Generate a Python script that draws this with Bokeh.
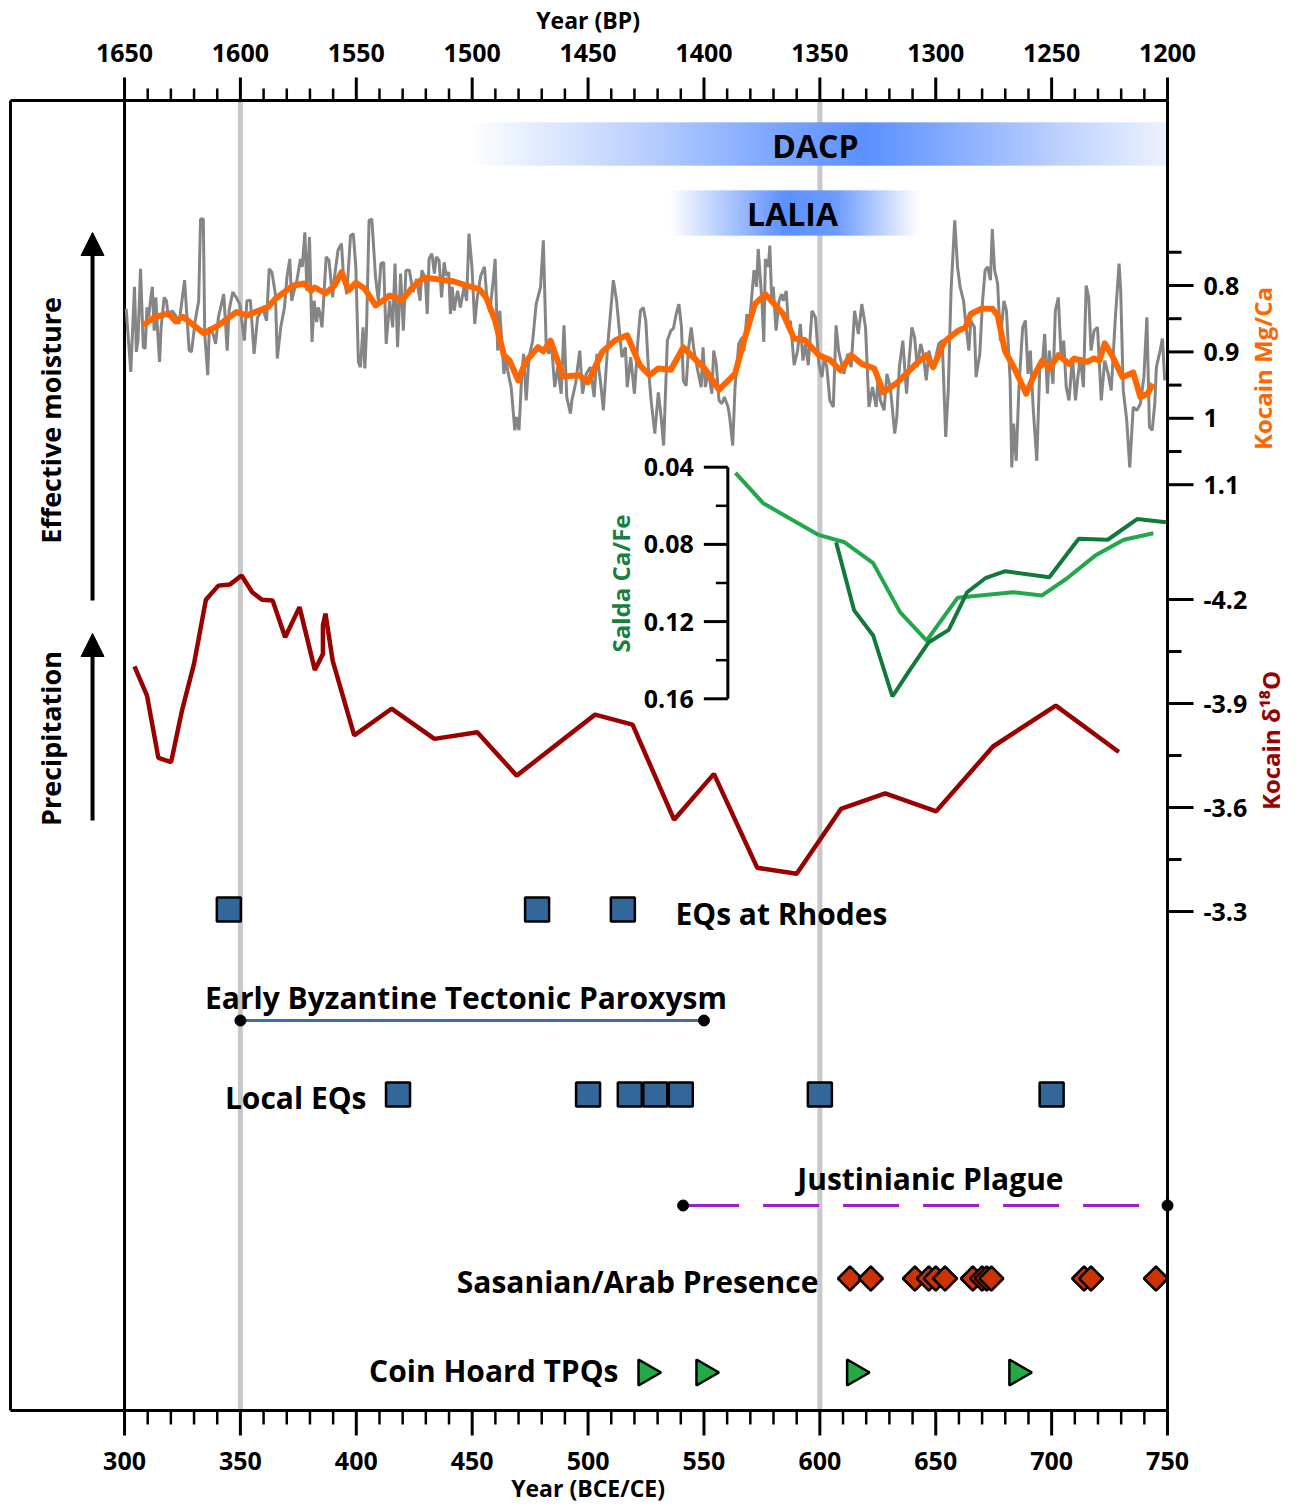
import numpy as np
from bokeh.plotting import figure
from bokeh.models import Range1d, Label, Arrow, NormalHead
from bokeh.core.properties import value
from bokeh.embed import file_html
from bokeh.resources import INLINE

FONT = "Open Sans"

# ---------------- data ----------------
# Kocain Mg/Ca, high-resolution record (grey)
mgca_raw_year = [
    300.7, 302.7, 304.3, 305.1, 305.8, 306.9, 308.1, 308.9, 309.7, 310.4,
    311.2, 312.0, 312.8, 313.5, 314.3, 315.1, 315.8, 317.1, 318.1, 318.9,
    320.5, 322.0, 323.5, 325.9, 327.9, 328.9, 330.5, 332.0, 332.8, 334.0,
    334.6, 335.9, 336.6, 338.2, 339.3, 340.5, 342.8, 344.3, 345.1, 346.7,
    348.2, 349.7, 351.7, 352.8, 354.3, 355.9, 357.4, 359.7, 361.3, 362.4,
    363.6, 365.1, 365.9, 367.4, 369.0, 370.1, 371.3, 372.1, 372.8, 374.4,
    375.9, 376.7, 377.8, 378.7, 379.8, 380.9, 381.8, 382.9, 383.6, 384.4,
    385.2, 385.9, 387.0, 388.2, 389.8, 390.6, 392.1, 393.6, 394.4, 395.9,
    397.5, 398.7, 399.8, 400.9, 401.8, 402.9, 403.7, 404.4, 405.5, 406.7,
    408.3, 409.5, 410.6, 411.8, 412.9, 414.4, 415.7, 416.7, 417.8, 419.1,
    420.3, 421.4, 422.9, 424.5, 426.0, 427.5, 428.3, 429.8, 430.6, 431.4,
    432.6, 433.7, 434.5, 435.7, 436.8, 437.9, 438.8, 439.9, 440.6, 441.4,
    442.2, 442.9, 443.7, 444.9, 446.5, 447.6, 448.6, 449.9, 451.1, 452.2,
    453.7, 455.3, 456.3, 457.6, 459.1, 459.9, 461.0, 461.9, 463.7, 464.5,
    465.3, 466.8, 468.4, 469.1, 470.2, 471.4, 472.2, 473.3, 474.5, 476.1,
    477.6, 479.5, 480.7, 481.9, 483.0, 484.1, 485.6, 486.9, 488.4, 489.6,
    490.8, 492.4, 493.0, 494.6, 496.4, 497.6, 499.2, 501.0, 502.6, 503.8,
    505.3, 506.6, 508.4, 510.9, 512.3, 514.6, 516.1, 516.9, 518.4, 520.0, 521.5,
    522.6, 523.8, 524.9, 526.0, 527.2, 528.8, 530.3, 531.5, 532.6, 534.2,
    535.7, 536.8, 538.0, 539.2, 540.3, 541.1, 542.3, 543.4, 544.5, 545.7,
    547.3, 548.8, 549.6, 550.6, 551.9, 553.4, 554.2, 555.3, 556.5, 557.7,
    558.8, 560.4, 561.1, 562.4, 563.4, 565.0, 566.5, 567.3, 568.5, 569.6,
    570.7, 571.6, 572.7, 573.4, 575.0, 575.8, 576.5, 577.8, 578.4, 579.3,
    579.9, 581.1, 582.4, 583.5, 584.2, 585.5, 586.5, 587.3, 588.9, 590.4,
    591.6, 592.7, 593.8, 595.0, 596.6, 598.1, 599.6, 600.9, 601.9, 603.0,
    604.3, 605.8, 607.0, 608.1, 609.7, 610.4, 612.0, 613.5, 615.0, 616.6,
    618.1, 619.7, 621.2, 622.7, 624.3, 625.1, 626.1, 627.7, 628.9, 630.4,
    632.3, 633.2, 634.3, 635.8, 637.4, 638.5, 639.7, 640.9, 642.0, 643.5,
    644.6, 645.9, 647.1, 648.6, 649.7, 651.3, 652.8, 654.3, 655.4, 656.6,
    658.2, 659.4, 660.5, 662.0, 663.1, 664.3, 665.1, 666.7, 667.4, 669.0,
    670.2, 671.3, 672.4, 673.6, 674.4, 675.4, 676.7, 677.9, 679.4, 680.5,
    682.1, 682.8, 683.6, 684.7, 685.9, 687.5, 688.7, 689.8, 690.8, 692.1,
    693.6, 694.9, 695.9, 697.0, 698.2, 699.0, 700.6, 701.6, 702.9, 704.1,
    705.2, 706.3, 707.5, 709.0, 710.3, 711.3, 712.4, 713.7, 714.9, 716.0,
    717.0, 718.3, 719.8, 721.4, 722.9, 724.4, 725.7, 727.5, 729.1, 729.8,
    730.9, 732.4, 733.7, 735.2, 736.8, 738.3, 739.8, 741.1, 742.2, 743.4,
    744.5, 745.2, 746.8, 747.8, 748.8,
]
mgca_raw = [
    0.835, 0.930, 0.802, 0.900, 0.883, 0.775, 0.893, 0.895, 0.833, 0.848,
    0.823, 0.802, 0.868, 0.818, 0.870, 0.915, 0.863, 0.818, 0.823, 0.848,
    0.838, 0.845, 0.858, 0.792, 0.898, 0.900, 0.853, 0.823, 0.700, 0.700,
    0.873, 0.935, 0.863, 0.873, 0.888, 0.848, 0.813, 0.898, 0.838, 0.810,
    0.818, 0.828, 0.883, 0.823, 0.822, 0.903, 0.848, 0.835, 0.853, 0.775,
    0.780, 0.813, 0.910, 0.863, 0.833, 0.787, 0.760, 0.823, 0.813, 0.792,
    0.760, 0.772, 0.720, 0.808, 0.727, 0.885, 0.823, 0.855, 0.833, 0.843,
    0.863, 0.823, 0.757, 0.762, 0.818, 0.787, 0.747, 0.737, 0.782, 0.813,
    0.725, 0.722, 0.772, 0.915, 0.923, 0.863, 0.925, 0.868, 0.702, 0.700,
    0.787, 0.823, 0.767, 0.765, 0.888, 0.823, 0.863, 0.767, 0.893, 0.782,
    0.868, 0.777, 0.777, 0.810, 0.790, 0.823, 0.777, 0.790, 0.843, 0.760,
    0.752, 0.782, 0.757, 0.762, 0.818, 0.765, 0.785, 0.780, 0.843, 0.802,
    0.838, 0.823, 0.808, 0.833, 0.802, 0.823, 0.722, 0.772, 0.858, 0.818,
    0.785, 0.772, 0.818, 0.840, 0.792, 0.760, 0.898, 0.838, 0.933, 0.908,
    0.928, 0.953, 1.018, 0.998, 1.018, 0.933, 0.903, 0.973, 0.908, 0.883,
    0.828, 0.802, 0.732, 0.888, 0.903, 0.883, 0.953, 0.923, 0.963, 0.860,
    0.968, 0.993, 0.973, 0.948, 0.898, 0.963, 0.933, 0.923, 0.968, 0.903,
    0.943, 0.988, 0.893, 0.792, 0.823, 0.908, 0.893, 0.953, 0.908, 0.963, 0.883,
    0.838, 0.833, 0.853, 0.923, 0.973, 1.023, 0.961, 0.998, 1.041, 0.883,
    0.868, 0.865, 0.843, 0.828, 0.863, 0.943, 0.951, 0.893, 0.863, 0.898,
    0.928, 0.953, 0.893, 0.953, 0.928, 0.963, 0.898, 0.918, 0.973, 0.978,
    0.968, 0.983, 0.998, 1.041, 0.953, 0.888, 0.878, 0.898, 0.843, 0.858,
    0.813, 0.777, 0.802, 0.745, 0.823, 0.885, 0.760, 0.772, 0.740, 0.828,
    0.802, 0.868, 0.823, 0.813, 0.823, 0.808, 0.863, 0.853, 0.920, 0.898,
    0.858, 0.913, 0.888, 0.920, 0.838, 0.848, 0.918, 0.938, 0.908, 0.923,
    0.973, 0.983, 0.860, 0.898, 0.923, 0.933, 0.903, 0.923, 0.838, 0.873,
    0.828, 0.863, 0.983, 0.953, 0.983, 0.938, 0.973, 0.988, 0.933, 0.953,
    1.023, 0.998, 0.923, 0.883, 0.963, 0.913, 0.863, 0.878, 0.923, 0.888,
    0.903, 0.943, 0.898, 0.923, 0.913, 0.888, 0.883, 1.028, 0.958, 0.808,
    0.702, 0.772, 0.802, 0.823, 0.863, 0.898, 0.853, 0.863, 0.938, 0.903,
    0.823, 0.777, 0.772, 0.792, 0.715, 0.777, 0.797, 0.883, 0.823, 0.838,
    0.943, 1.074, 1.008, 1.064, 0.953, 0.863, 0.853, 0.933, 0.898, 0.988,
    1.064, 0.923, 0.923, 0.873, 0.963, 0.898, 0.948, 0.838, 0.818, 0.908,
    0.883, 0.953, 0.973, 0.908, 0.973, 0.938, 0.908, 0.953, 0.800, 0.818,
    0.898, 0.868, 0.863, 0.973, 0.913, 0.933, 0.958, 0.848, 0.767, 0.808,
    0.958, 1.003, 1.074, 0.983, 0.988, 0.978, 0.938, 0.848, 1.013, 1.018,
    0.978, 0.923, 0.898, 0.880, 0.943,
]

# Kocain Mg/Ca, smoothed (orange)
mgca_smooth_year = [
    308.1, 312.8, 318.9, 322.0, 325.1, 334.3, 340.5, 348.2, 352.8, 362.1,
    365.1, 372.8, 377.5, 380.5, 382.1, 386.7, 390.6, 393.6, 396.7, 399.8,
    403.7, 408.3, 411.4, 414.4, 417.5, 419.8, 423.7, 429.1, 436.0, 442.2,
    448.3, 452.9, 456.0, 459.9, 463.7, 466.1, 469.9, 473.0, 478.4, 480.7,
    483.8, 489.2, 496.1, 499.9, 506.1, 511.5, 516.9, 522.3,
    526.5, 530.3, 535.7, 541.1, 550.3, 556.5, 563.4, 567.3, 571.9, 576.5,
    584.2, 588.9, 593.5, 599.6, 604.3, 608.9, 613.5, 618.1, 623.5, 627.4,
    633.5, 641.2, 645.9, 648.9, 653.6, 659.7, 662.8, 665.1, 669.7, 674.4,
    676.7, 679.8, 684.4, 689.0, 692.1, 695.9, 699.0, 702.9, 707.5, 709.8,
    715.2, 718.3, 720.6, 722.9, 726.0, 730.6, 735.2, 738.3, 741.4, 743.7,
]
mgca_smooth = [
    0.860, 0.848, 0.842, 0.854, 0.847, 0.872, 0.860, 0.840, 0.845, 0.832,
    0.820, 0.800, 0.797, 0.808, 0.803, 0.812, 0.800, 0.780, 0.807, 0.796,
    0.805, 0.830, 0.823, 0.815, 0.819, 0.822, 0.805, 0.788, 0.791, 0.794,
    0.801, 0.805, 0.818, 0.853, 0.905, 0.913, 0.943, 0.915, 0.893, 0.899,
    0.883, 0.937, 0.935, 0.946, 0.900, 0.883, 0.875, 0.920,
    0.935, 0.925, 0.927, 0.893, 0.925, 0.957, 0.933, 0.883, 0.828, 0.813,
    0.843, 0.880, 0.882, 0.905, 0.912, 0.928, 0.905, 0.918, 0.925, 0.961,
    0.946, 0.919, 0.905, 0.923, 0.885, 0.868, 0.863, 0.843, 0.835, 0.835,
    0.845, 0.898, 0.928, 0.963, 0.938, 0.913, 0.925, 0.905, 0.918, 0.910,
    0.915, 0.910, 0.913, 0.887, 0.905, 0.938, 0.931, 0.968, 0.963, 0.948,
]

# Kocain d18O (dark red)
d18o_year = [
    304.3, 309.7, 314.6, 320.1, 324.8, 330.0, 335.1, 340.5, 345.4, 350.5,
    355.1, 359.3, 363.9, 369.3, 375.5, 382.1, 385.6, 385.6, 386.7, 389.8,
    399.1, 415.2, 433.7, 452.2, 469.2, 503.0, 519.2, 537.1, 554.3, 573.0,
    590.0, 609.1, 628.2, 650.2, 674.7, 701.8, 729.0,
]
d18o = [
    -4.007, -3.923, -3.743, -3.731, -3.880, -4.015, -4.199, -4.240, -4.243, -4.269,
    -4.221, -4.199, -4.197, -4.091, -4.178, -3.997, -4.043, -4.125, -4.159, -4.024,
    -3.808, -3.885, -3.798, -3.817, -3.692, -3.868, -3.839, -3.565, -3.697, -3.426,
    -3.409, -3.596, -3.641, -3.589, -3.776, -3.894, -3.760,
]

# Salda Ca/Fe (two records)
salda_a_year = [563.6, 575.6, 599.1, 610.7, 623.0, 634.6, 646.1, 659.4, 683.3, 695.7,
                706.4, 718.8, 731.1, 743.9]
salda_a = [0.0429, 0.0587, 0.0749, 0.0789, 0.0897, 0.1151, 0.1298, 0.1077, 0.1048, 0.1065,
           0.0978, 0.0858, 0.0776, 0.0742]
salda_b_year = [607.0, 614.8, 623.0, 631.3, 638.7, 647.0, 655.6, 663.5, 671.7, 680.0,
                699.0, 711.7, 724.2, 736.9, 749.3]
salda_b = [0.0789, 0.1142, 0.1272, 0.1588, 0.1453, 0.1307, 0.1243, 0.1048, 0.0973, 0.0939,
           0.0970, 0.0771, 0.0776, 0.0669, 0.0685]

# events (years CE)
rhodes_eq = [345, 478, 515]
local_eq = [418, 500, 518, 529, 540, 600, 700]
paroxysm = [350, 550]
plague = [541, 750]
sasanian_arab = [613, 622, 641, 647, 650, 654, 666, 670, 672, 674, 714, 717, 745]
coin_tpq = [525, 550, 615, 685]
guide_years = [350, 600]
dacp_span = [448, 750]
lalia_span = [535, 643]

# axis ticks
ce_ticks = list(range(300, 751, 50))
ce_minor = [t for t in range(300, 751, 10) if t % 50]
bp_ticks = list(range(1200, 1651, 50))
bp_minor = [t for t in range(1200, 1651, 10) if t % 50]
mg_ticks = [0.8, 0.9, 1.0, 1.1]
mg_tick_labels = ["0.8", "0.9", "1", "1.1"]
mg_minor = [0.75, 0.85, 0.95, 1.05]
d18o_ticks = [-4.2, -3.9, -3.6, -3.3]
d18o_tick_labels = ["-4.2", "-3.9", "-3.6", "-3.3"]
d18o_minor = [-4.05, -3.75, -3.45]
salda_ticks = [0.04, 0.08, 0.12, 0.16]
salda_tick_labels = ["0.04", "0.08", "0.12", "0.16"]
salda_minor = [0.06, 0.10, 0.14]

# ---------------- layout ----------------
W, H = 1298, 1506
X_START, X_END = 246.49, 806.51          # CE at canvas left / right
MG_START, MG_END = 2.63886, 0.37078      # Mg/Ca at canvas bottom / top
D_START, D_END = -1.58391, -5.92772      # d18O at canvas bottom / top
S_START, S_END = 0.57850, -0.20181       # Salda Ca/Fe at canvas bottom / top

BOX_L, BOX_R = 250.8, 750.0              # plot box (CE)
BOX_T, BOX_B = 100, 1410                 # plot box (px from top)
PX = (X_END - X_START) / W               # CE per pixel

p = figure(width=W, height=H, output_backend="svg", toolbar_location=None, title=None,
           x_range=Range1d(X_START, X_END), y_range=Range1d(MG_START, MG_END),
           x_axis_location=None, y_axis_location=None, min_border=0,
           min_border_left=0, min_border_right=0, min_border_top=0, min_border_bottom=0)
p.extra_x_ranges = {"bp": Range1d(1950 - X_START, 1950 - X_END)}
p.extra_y_ranges = {"d18o": Range1d(D_START, D_END),
                    "salda": Range1d(S_START, S_END),
                    "lay": Range1d(H, 0)}
p.outline_line_color = None
p.background_fill_color = "white"
p.border_fill_color = "white"
p.grid.visible = False

TICK_FS = "25px"


def seg(x0, y0, x1, y1, color="black", width=3, xr="default", yr="lay", dash="solid"):
    p.segment(x0=x0, y0=y0, x1=x1, y1=y1, x_range_name=xr, y_range_name=yr,
              line_color=color, line_width=width, line_dash=dash)


def texts(x, y, labels, size=TICK_FS, align="center", xr="default", yr="lay"):
    p.text(x=x, y=y, text=labels, x_range_name=xr, y_range_name=yr, text_font=value(FONT),
           text_font_style="bold", text_font_size=size, text_align=align,
           text_baseline="middle", text_color="black")


def label(x, y, text, size, color="black", align="center", angle=0.0, yname="lay"):
    p.add_layout(Label(x=x, y=y, text=text, y_range_name=yname, text_font=FONT, text_font_style="bold",
                       text_font_size=size, text_color=color, text_align=align,
                       text_baseline="middle", angle=angle))


# guide lines (behind everything)
n = len(guide_years)
seg(guide_years, [BOX_T] * n, guide_years, [BOX_B] * n, color="#c8c8c8", width=5)

# gradient bands
BLUE = (92, 144, 255)


def band(span, y_top, y_bot, stops_x, stops_a):
    k = int((span[1] - span[0]) * 2)
    e = np.linspace(span[0], span[1], k + 1)
    c = (e[:-1] + e[1:]) / 2
    a = np.interp(c, stops_x, stops_a)
    cols = ["#%02x%02x%02x" % tuple(int(round(255 * (1 - ai) + b * ai)) for b in BLUE) for ai in a]
    p.quad(left=e[:-1], right=np.minimum(e[1:] + 0.35, span[1]), top=y_top, bottom=y_bot,
           y_range_name="lay", fill_color=cols, line_color=None)


band(dacp_span, 122, 165, [448, 527, 580, 620, 657, 705, 745, 750], [0, 0.45, 0.8, 1.0, 0.75, 0.4, 0.15, 0.12])
band(lalia_span, 190, 235, [535, 560, 585, 607, 625, 643], [0, 0.5, 1.0, 0.9, 0.45, 0])
label(598.1, 145, "DACP", "32px")
label(588.2, 213, "LALIA", "32px")

# box, inner line at 300 CE, right axis line
seg([BOX_L, BOX_L, BOX_L, ce_ticks[0], BOX_R], [BOX_T, BOX_B, BOX_T, BOX_T, BOX_T],
    [BOX_R, BOX_R, BOX_L, ce_ticks[0], BOX_R], [BOX_T, BOX_B, BOX_B, BOX_B, BOX_B])

# bottom axis (CE)
seg(ce_ticks, [BOX_B] * len(ce_ticks), ce_ticks, [BOX_B + 25] * len(ce_ticks))
seg(ce_minor, [BOX_B] * len(ce_minor), ce_minor, [BOX_B + 14] * len(ce_minor), width=2.5)
texts(ce_ticks, [1460] * len(ce_ticks), [str(t) for t in ce_ticks])
texts([500], [1487], ["Year (BCE/CE)"], size="23px")

# top axis (BP)
seg(bp_ticks, [BOX_T] * len(bp_ticks), bp_ticks, [BOX_T - 23] * len(bp_ticks), xr="bp")
seg(bp_minor, [BOX_T] * len(bp_minor), bp_minor, [BOX_T - 12] * len(bp_minor), xr="bp", width=2.5)
texts(bp_ticks, [52] * len(bp_ticks), [str(t) for t in bp_ticks], xr="bp")
texts([500], [19], ["Year (BP)"], size="23px")

# right axes (Mg/Ca on top, d18O below)
MAJ, MIN_, GAP = 26 * PX, 14 * PX, 36 * PX
for ticks, minors, labs, rname in [(mg_ticks, mg_minor, mg_tick_labels, "default"),
                                   (d18o_ticks, d18o_minor, d18o_tick_labels, "d18o")]:
    seg([BOX_R] * len(ticks), ticks, [BOX_R + MAJ] * len(ticks), ticks, yr=rname)
    seg([BOX_R] * len(minors), minors, [BOX_R + MIN_] * len(minors), minors, yr=rname)
    texts([BOX_R + GAP] * len(ticks), ticks, labs, align="left", yr=rname)
label(BOX_R + 95 * PX, 368, "Kocain Mg/Ca", "24px", color="#ff6600", angle=np.pi / 2)
label(BOX_R + 103 * PX, 740, "Kocain \u03b4\u00b9\u2078O", "24px", color="#990000", angle=np.pi / 2)

# Mg/Ca series
p.line(mgca_raw_year, mgca_raw, line_color="#858585", line_width=3)
p.line(mgca_smooth_year, mgca_smooth, line_color="#ff6600", line_width=6, line_join="round")

# d18O series
p.line(d18o_year, d18o, y_range_name="d18o", line_color="#990000", line_width=4.5)

# Salda series
p.line(salda_a_year, salda_a, y_range_name="salda", line_color="#22a84a", line_width=4)
p.line(salda_b_year, salda_b, y_range_name="salda", line_color="#117a3a", line_width=4)

# inset Salda axis
INSET_X = 560.3
seg([INSET_X], [salda_ticks[0]], [INSET_X], [salda_ticks[-1]], yr="salda")
seg([INSET_X - 24 * PX] * len(salda_ticks), salda_ticks, [INSET_X] * len(salda_ticks), salda_ticks, yr="salda")
seg([INSET_X - 12 * PX] * len(salda_minor), salda_minor, [INSET_X] * len(salda_minor), salda_minor,
    yr="salda", width=2.5)
texts([INSET_X - 34 * PX] * len(salda_ticks), salda_ticks, salda_tick_labels, align="right", yr="salda")
label(514.0, 583, "Salda Ca/Fe", "24px", color="#17803c", angle=np.pi / 2)

# left-side labels & arrows
label(268.1, 420, "Effective moisture", "27px", angle=np.pi / 2)
label(268.1, 738, "Precipitation", "27px", angle=np.pi / 2)
for y0, y1 in [(600, 232), (820, 633)]:
    p.add_layout(Arrow(end=NormalHead(size=23, fill_color="black", line_color="black"),
                       x_start=286.2, y_start=y0, x_end=286.2, y_end=y1, y_range_name="lay",
                       line_color="black", line_width=4))

# events
SQ = "#336699"
p.scatter(rhodes_eq, [909] * len(rhodes_eq), y_range_name="lay", marker="square", size=24,
          fill_color=SQ, line_color="black", line_width=2.5)
label(537.7, 913, "EQs at Rhodes", "30px", align="left")

label(447.3, 997, "Early Byzantine Tectonic Paroxysm", "30px")
p.line(paroxysm, [1020] * 2, y_range_name="lay", line_color="#3b6ea8", line_width=3)
p.scatter(paroxysm, [1020] * 2, y_range_name="lay", marker="circle", size=11, fill_color="black",
          line_color="black")

p.scatter(local_eq, [1094] * len(local_eq), y_range_name="lay", marker="square", size=24,
          fill_color=SQ, line_color="black", line_width=2.5)
label(404.4, 1097, "Local EQs", "30px", align="right")

label(647.7, 1178, "Justinianic Plague", "30px")
p.line(plague, [1205] * 2, y_range_name="lay", line_color="#9b1fcf", line_width=3, line_dash="56 24")
p.scatter(plague, [1205] * 2, y_range_name="lay", marker="circle", size=11, fill_color="black",
          line_color="black")

p.scatter(sasanian_arab, [1278] * len(sasanian_arab), y_range_name="lay", marker="square", angle=np.pi / 4,
          size=17, fill_color="#cc3300", line_color="black", line_width=2.5)
label(599.4, 1281, "Sasanian/Arab Presence", "30px", align="right")

p.scatter(coin_tpq, [1372] * len(coin_tpq), y_range_name="lay", marker="triangle", angle=-np.pi / 2,
          size=26, fill_color="#22aa44", line_color="black", line_width=2.5)
label(513.1, 1370, "Coin Hoard TPQs", "30px", align="right")

open("out.html", "w").write(file_html(p, INLINE))
